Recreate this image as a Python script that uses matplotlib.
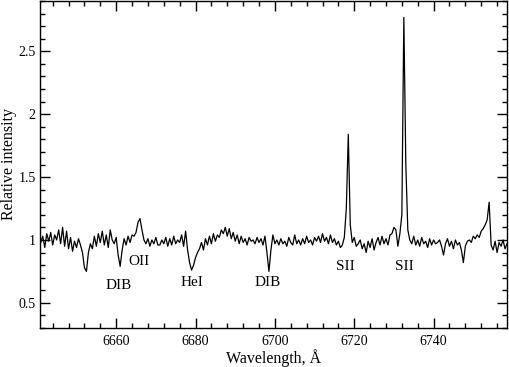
import numpy as np
import matplotlib
matplotlib.use('Agg')
import matplotlib.pyplot as plt
from matplotlib.ticker import MultipleLocator, FixedLocator, FixedFormatter

plt.rcParams['font.family'] = ['Liberation Serif', 'DejaVu Serif']

# spectrum sampled every 0.5 A from 6641.0 to 6758.5
wl_start = 6641.0
wl_step = 0.5
flux = [
    # 6641.0 - 6650.5
    0.98, 1.03, 0.94, 1.05, 0.99, 1.06, 0.96, 1.04, 1.00, 1.08,
    0.97, 1.10, 0.95, 1.07, 0.93, 1.02, 0.91, 0.99, 0.94, 1.01,
    # 6651.0 - 6660.5
    0.96, 0.90, 0.78, 0.75, 0.90, 0.97, 0.93, 1.03, 0.95, 1.05,
    0.98, 1.07, 0.96, 1.04, 0.94, 1.08, 1.00, 0.97, 1.02, 0.88,
    # 6661.0 - 6670.5
    0.79, 0.92, 1.01, 0.96, 1.03, 0.98, 1.04, 1.03, 1.06, 1.14,
    1.17, 1.08, 1.00, 0.97, 1.01, 0.95, 1.00, 0.97, 1.02, 0.96,
    # 6671.0 - 6680.5
    0.96, 1.00, 0.97, 1.02, 0.95, 1.01, 0.96, 1.03, 0.97, 1.00,
    0.98, 1.04, 0.95, 1.07, 0.92, 0.82, 0.76, 0.80, 0.86, 0.90,
    # 6681.0 - 6690.5
    0.93, 0.98, 0.92, 1.01, 0.96, 1.03, 0.97, 1.05, 0.99, 1.04,
    1.02, 1.08, 1.05, 1.10, 1.03, 1.09, 1.01, 1.06, 0.99, 1.04,
    # 6691.0 - 6700.5
    0.97, 1.03, 0.98, 1.01, 0.96, 1.02, 0.99, 1.00, 0.97, 1.02,
    0.98, 1.01, 0.96, 1.03, 0.90, 0.75, 0.92, 1.04, 0.97, 1.00,
    # 6701.0 - 6710.5
    0.96, 1.01, 0.97, 0.99, 0.95, 1.02, 0.98, 0.96, 1.04, 0.97,
    1.00, 0.96, 1.01, 0.97, 1.03, 0.98, 1.00, 0.96, 1.02, 0.99,
    # 6711.0 - 6720.5
    1.03, 0.98, 1.05, 0.99, 1.02, 0.97, 1.04, 0.98, 1.01, 0.96,
    0.99, 0.94, 0.96, 1.02, 1.25, 1.84, 1.12, 0.98, 1.02, 0.95,
    # 6721.0 - 6730.5
    0.97, 1.00, 0.93, 0.97, 0.90, 0.99, 0.94, 1.01, 0.92, 0.98,
    1.02, 0.96, 1.03, 0.97, 1.01, 0.96, 1.04, 1.05, 1.10, 1.08,
    # 6731.0 - 6740.5
    0.95, 1.05, 1.20, 2.77, 1.60, 1.08, 1.00, 0.97, 1.03, 0.96,
    1.00, 0.95, 1.02, 0.97, 0.99, 0.94, 1.01, 0.96, 1.00, 0.97,
    # 6741.0 - 6750.5
    0.98, 1.00, 0.95, 0.88, 0.97, 1.01, 0.95, 0.99, 0.93, 1.00,
    0.96, 0.98, 0.92, 0.82, 0.95, 0.99, 1.00, 0.98, 1.03, 1.01,
    # 6751.0 - 6758.5
    1.04, 1.02, 1.07, 1.09, 1.12, 1.16, 1.30, 0.96, 0.92, 0.99,
    0.90, 0.98, 0.95, 1.00, 0.93, 0.97,
]
wavelength = wl_start + wl_step * np.arange(len(flux))

line_names = ['DIB', 'OII', 'HeI', 'DIB', 'SII', 'SII']
line_x = [6660.5, 6665.8, 6679.0, 6698.2, 6717.8, 6732.6]
line_y = [0.635, 0.826, 0.66, 0.66, 0.79, 0.79]

y_ticks = [0.5, 1, 1.5, 2, 2.5]
y_tick_labels = ['0.5', '1', '1.5', '2', '2.5']

fig = plt.figure(figsize=(5.1, 3.67), dpi=100)
ax = fig.add_axes([40 / 510, 1 - 328 / 367, 467 / 510, 327 / 367])

ax.plot(wavelength, flux, color='black', lw=0.9)

for name, x, y in zip(line_names, line_x, line_y):
    ax.text(x, y, name, ha='center', va='center', fontsize=11)

ax.set_xlim(6640.8, 6758.5)
ax.set_ylim(0.3, 2.9)
ax.xaxis.set_major_locator(MultipleLocator(20))
ax.xaxis.set_minor_locator(MultipleLocator(4))
ax.yaxis.set_major_locator(FixedLocator(y_ticks))
ax.yaxis.set_major_formatter(FixedFormatter(y_tick_labels))
ax.yaxis.set_minor_locator(MultipleLocator(0.1))
ax.tick_params(which='both', direction='in', top=True, right=True, labelsize=10, width=1.0)
ax.tick_params(which='major', length=7)
ax.tick_params(axis='x', which='major', pad=5)
ax.tick_params(axis='y', which='major', pad=3)
ax.tick_params(which='minor', length=3.5)
for sp in ax.spines.values():
    sp.set_linewidth(1.0)

ax.set_xlabel('Wavelength, Å', fontsize=11.5, va='center')
ax.set_ylabel('Relative intensity', fontsize=11.5, va='center')
ax.xaxis.set_label_coords(0.5, -30 / 327)
ax.yaxis.set_label_coords(-31 / 467, 0.5)

fig.savefig('out.png', dpi=100)
